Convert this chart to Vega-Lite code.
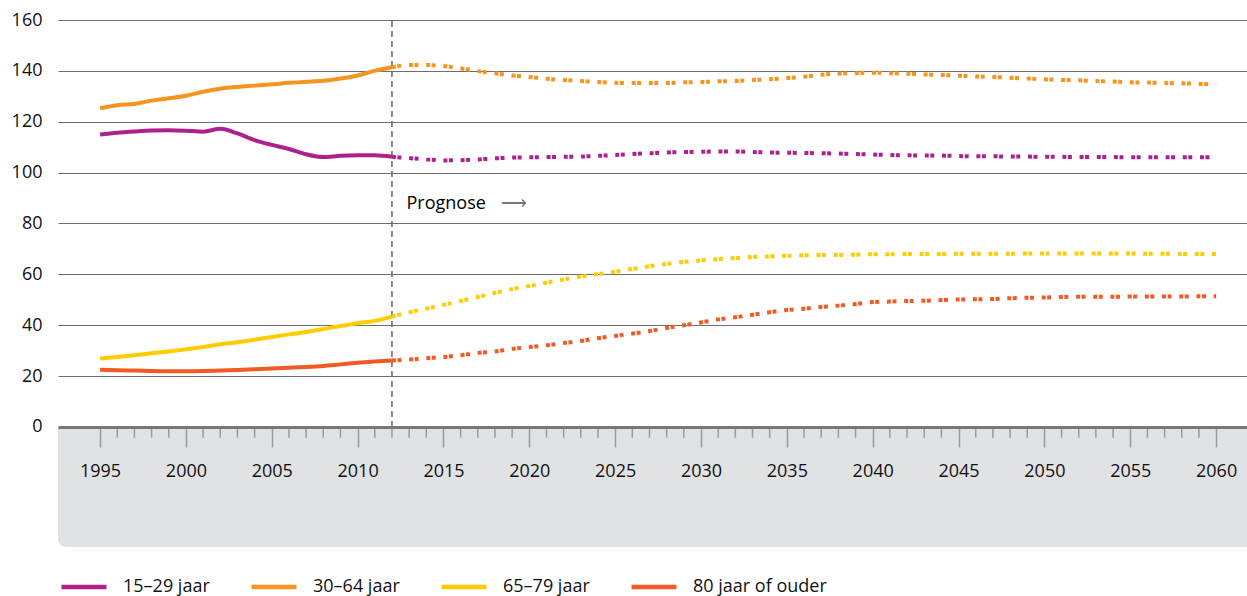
{
  "$schema": "https://vega.github.io/schema/vega-lite/v6.json",
  "width": 1189,
  "height": 527,
  "autosize": {"type": "none"},
  "padding": {"left": 58, "top": 20, "right": 0, "bottom": 49},
  "background": "white",
  "config": {
    "font": "Open Sans",
    "view": {"stroke": null},
    "axis": {"labelFont": "Open Sans", "labelColor": "#111", "labelFontSize": 18}
  },
  "datasets": {
    "series": [
      {"year":1995,"g":"15–29 jaar","v":115.0},{"year":1996,"g":"15–29 jaar","v":115.7},{"year":1997,"g":"15–29 jaar","v":116.2},{"year":1998,"g":"15–29 jaar","v":116.6},{"year":1999,"g":"15–29 jaar","v":116.7},{"year":2000,"g":"15–29 jaar","v":116.5},{"year":2001,"g":"15–29 jaar","v":116.1},{"year":2002,"g":"15–29 jaar","v":117.2},{"year":2003,"g":"15–29 jaar","v":115.4},{"year":2004,"g":"15–29 jaar","v":112.8},{"year":2005,"g":"15–29 jaar","v":110.9},{"year":2006,"g":"15–29 jaar","v":109.3},{"year":2007,"g":"15–29 jaar","v":107.2},{"year":2008,"g":"15–29 jaar","v":106.1},{"year":2009,"g":"15–29 jaar","v":106.6},{"year":2010,"g":"15–29 jaar","v":106.8},{"year":2011,"g":"15–29 jaar","v":106.8},{"year":2012,"g":"15–29 jaar","v":106.2},{"year":2013,"g":"15–29 jaar","v":105.7},{"year":2014,"g":"15–29 jaar","v":105.2},{"year":2015,"g":"15–29 jaar","v":104.8},{"year":2016,"g":"15–29 jaar","v":104.9},{"year":2017,"g":"15–29 jaar","v":105.2},{"year":2018,"g":"15–29 jaar","v":105.6},{"year":2019,"g":"15–29 jaar","v":105.9},{"year":2020,"g":"15–29 jaar","v":106.0},{"year":2021,"g":"15–29 jaar","v":106.1},{"year":2022,"g":"15–29 jaar","v":106.2},{"year":2023,"g":"15–29 jaar","v":106.3},{"year":2024,"g":"15–29 jaar","v":106.6},{"year":2025,"g":"15–29 jaar","v":106.9},{"year":2026,"g":"15–29 jaar","v":107.3},{"year":2027,"g":"15–29 jaar","v":107.6},{"year":2028,"g":"15–29 jaar","v":107.9},{"year":2029,"g":"15–29 jaar","v":108.1},{"year":2030,"g":"15–29 jaar","v":108.2},{"year":2031,"g":"15–29 jaar","v":108.3},{"year":2032,"g":"15–29 jaar","v":108.3},{"year":2033,"g":"15–29 jaar","v":108.1},{"year":2034,"g":"15–29 jaar","v":107.9},{"year":2035,"g":"15–29 jaar","v":107.8},{"year":2036,"g":"15–29 jaar","v":107.7},{"year":2037,"g":"15–29 jaar","v":107.6},{"year":2038,"g":"15–29 jaar","v":107.5},{"year":2039,"g":"15–29 jaar","v":107.3},{"year":2040,"g":"15–29 jaar","v":107.1},{"year":2041,"g":"15–29 jaar","v":106.9},{"year":2042,"g":"15–29 jaar","v":106.8},{"year":2043,"g":"15–29 jaar","v":106.7},{"year":2044,"g":"15–29 jaar","v":106.7},{"year":2045,"g":"15–29 jaar","v":106.5},{"year":2046,"g":"15–29 jaar","v":106.4},{"year":2047,"g":"15–29 jaar","v":106.4},{"year":2048,"g":"15–29 jaar","v":106.3},{"year":2049,"g":"15–29 jaar","v":106.3},{"year":2050,"g":"15–29 jaar","v":106.2},{"year":2051,"g":"15–29 jaar","v":106.2},{"year":2052,"g":"15–29 jaar","v":106.1},{"year":2053,"g":"15–29 jaar","v":106.1},{"year":2054,"g":"15–29 jaar","v":106.1},{"year":2055,"g":"15–29 jaar","v":106.0},{"year":2056,"g":"15–29 jaar","v":106.0},{"year":2057,"g":"15–29 jaar","v":106.0},{"year":2058,"g":"15–29 jaar","v":106.0},{"year":2059,"g":"15–29 jaar","v":106.0},{"year":2060,"g":"15–29 jaar","v":106.0},
      {"year":1995,"g":"30–64 jaar","v":125.3},{"year":1996,"g":"30–64 jaar","v":126.5},{"year":1997,"g":"30–64 jaar","v":127.0},{"year":1998,"g":"30–64 jaar","v":128.3},{"year":1999,"g":"30–64 jaar","v":129.2},{"year":2000,"g":"30–64 jaar","v":130.2},{"year":2001,"g":"30–64 jaar","v":131.8},{"year":2002,"g":"30–64 jaar","v":133.0},{"year":2003,"g":"30–64 jaar","v":133.7},{"year":2004,"g":"30–64 jaar","v":134.2},{"year":2005,"g":"30–64 jaar","v":134.7},{"year":2006,"g":"30–64 jaar","v":135.3},{"year":2007,"g":"30–64 jaar","v":135.7},{"year":2008,"g":"30–64 jaar","v":136.1},{"year":2009,"g":"30–64 jaar","v":137.0},{"year":2010,"g":"30–64 jaar","v":138.2},{"year":2011,"g":"30–64 jaar","v":140.0},{"year":2012,"g":"30–64 jaar","v":141.4},{"year":2013,"g":"30–64 jaar","v":142.3},{"year":2014,"g":"30–64 jaar","v":142.3},{"year":2015,"g":"30–64 jaar","v":141.9},{"year":2016,"g":"30–64 jaar","v":141.0},{"year":2017,"g":"30–64 jaar","v":139.9},{"year":2018,"g":"30–64 jaar","v":139.0},{"year":2019,"g":"30–64 jaar","v":138.2},{"year":2020,"g":"30–64 jaar","v":137.6},{"year":2021,"g":"30–64 jaar","v":136.9},{"year":2022,"g":"30–64 jaar","v":136.4},{"year":2023,"g":"30–64 jaar","v":136.0},{"year":2024,"g":"30–64 jaar","v":135.6},{"year":2025,"g":"30–64 jaar","v":135.3},{"year":2026,"g":"30–64 jaar","v":135.2},{"year":2027,"g":"30–64 jaar","v":135.2},{"year":2028,"g":"30–64 jaar","v":135.2},{"year":2029,"g":"30–64 jaar","v":135.5},{"year":2030,"g":"30–64 jaar","v":135.6},{"year":2031,"g":"30–64 jaar","v":135.9},{"year":2032,"g":"30–64 jaar","v":136.0},{"year":2033,"g":"30–64 jaar","v":136.4},{"year":2034,"g":"30–64 jaar","v":136.7},{"year":2035,"g":"30–64 jaar","v":137.2},{"year":2036,"g":"30–64 jaar","v":137.7},{"year":2037,"g":"30–64 jaar","v":138.5},{"year":2038,"g":"30–64 jaar","v":138.9},{"year":2039,"g":"30–64 jaar","v":139.1},{"year":2040,"g":"30–64 jaar","v":139.3},{"year":2041,"g":"30–64 jaar","v":139.1},{"year":2042,"g":"30–64 jaar","v":138.9},{"year":2043,"g":"30–64 jaar","v":138.6},{"year":2044,"g":"30–64 jaar","v":138.4},{"year":2045,"g":"30–64 jaar","v":138.1},{"year":2046,"g":"30–64 jaar","v":137.8},{"year":2047,"g":"30–64 jaar","v":137.6},{"year":2048,"g":"30–64 jaar","v":137.3},{"year":2049,"g":"30–64 jaar","v":137.0},{"year":2050,"g":"30–64 jaar","v":136.7},{"year":2051,"g":"30–64 jaar","v":136.4},{"year":2052,"g":"30–64 jaar","v":136.3},{"year":2053,"g":"30–64 jaar","v":136.0},{"year":2054,"g":"30–64 jaar","v":135.8},{"year":2055,"g":"30–64 jaar","v":135.5},{"year":2056,"g":"30–64 jaar","v":135.4},{"year":2057,"g":"30–64 jaar","v":135.2},{"year":2058,"g":"30–64 jaar","v":135.1},{"year":2059,"g":"30–64 jaar","v":134.9},{"year":2060,"g":"30–64 jaar","v":134.8},
      {"year":1995,"g":"65–79 jaar","v":26.9},{"year":1996,"g":"65–79 jaar","v":27.5},{"year":1997,"g":"65–79 jaar","v":28.2},{"year":1998,"g":"65–79 jaar","v":29.0},{"year":1999,"g":"65–79 jaar","v":29.7},{"year":2000,"g":"65–79 jaar","v":30.5},{"year":2001,"g":"65–79 jaar","v":31.4},{"year":2002,"g":"65–79 jaar","v":32.5},{"year":2003,"g":"65–79 jaar","v":33.3},{"year":2004,"g":"65–79 jaar","v":34.3},{"year":2005,"g":"65–79 jaar","v":35.4},{"year":2006,"g":"65–79 jaar","v":36.4},{"year":2007,"g":"65–79 jaar","v":37.3},{"year":2008,"g":"65–79 jaar","v":38.5},{"year":2009,"g":"65–79 jaar","v":39.7},{"year":2010,"g":"65–79 jaar","v":40.8},{"year":2011,"g":"65–79 jaar","v":41.7},{"year":2012,"g":"65–79 jaar","v":43.4},{"year":2013,"g":"65–79 jaar","v":45.1},{"year":2014,"g":"65–79 jaar","v":46.5},{"year":2015,"g":"65–79 jaar","v":48.0},{"year":2016,"g":"65–79 jaar","v":49.5},{"year":2017,"g":"65–79 jaar","v":51.1},{"year":2018,"g":"65–79 jaar","v":52.7},{"year":2019,"g":"65–79 jaar","v":54.2},{"year":2020,"g":"65–79 jaar","v":55.4},{"year":2021,"g":"65–79 jaar","v":56.7},{"year":2022,"g":"65–79 jaar","v":58.0},{"year":2023,"g":"65–79 jaar","v":59.1},{"year":2024,"g":"65–79 jaar","v":60.1},{"year":2025,"g":"65–79 jaar","v":61.0},{"year":2026,"g":"65–79 jaar","v":62.1},{"year":2027,"g":"65–79 jaar","v":63.2},{"year":2028,"g":"65–79 jaar","v":64.1},{"year":2029,"g":"65–79 jaar","v":64.9},{"year":2030,"g":"65–79 jaar","v":65.5},{"year":2031,"g":"65–79 jaar","v":66.0},{"year":2032,"g":"65–79 jaar","v":66.4},{"year":2033,"g":"65–79 jaar","v":66.8},{"year":2034,"g":"65–79 jaar","v":67.1},{"year":2035,"g":"65–79 jaar","v":67.3},{"year":2036,"g":"65–79 jaar","v":67.5},{"year":2037,"g":"65–79 jaar","v":67.6},{"year":2038,"g":"65–79 jaar","v":67.6},{"year":2039,"g":"65–79 jaar","v":67.7},{"year":2040,"g":"65–79 jaar","v":67.9},{"year":2041,"g":"65–79 jaar","v":67.9},{"year":2042,"g":"65–79 jaar","v":68.0},{"year":2043,"g":"65–79 jaar","v":68.0},{"year":2044,"g":"65–79 jaar","v":68.0},{"year":2045,"g":"65–79 jaar","v":68.1},{"year":2046,"g":"65–79 jaar","v":68.1},{"year":2047,"g":"65–79 jaar","v":68.1},{"year":2048,"g":"65–79 jaar","v":68.1},{"year":2049,"g":"65–79 jaar","v":68.2},{"year":2050,"g":"65–79 jaar","v":68.2},{"year":2051,"g":"65–79 jaar","v":68.2},{"year":2052,"g":"65–79 jaar","v":68.2},{"year":2053,"g":"65–79 jaar","v":68.2},{"year":2054,"g":"65–79 jaar","v":68.2},{"year":2055,"g":"65–79 jaar","v":68.2},{"year":2056,"g":"65–79 jaar","v":68.1},{"year":2057,"g":"65–79 jaar","v":68.1},{"year":2058,"g":"65–79 jaar","v":68.0},{"year":2059,"g":"65–79 jaar","v":68.0},{"year":2060,"g":"65–79 jaar","v":68.0},
      {"year":1995,"g":"80 jaar of ouder","v":22.5},{"year":1996,"g":"80 jaar of ouder","v":22.3},{"year":1997,"g":"80 jaar of ouder","v":22.2},{"year":1998,"g":"80 jaar of ouder","v":22.0},{"year":1999,"g":"80 jaar of ouder","v":21.9},{"year":2000,"g":"80 jaar of ouder","v":21.9},{"year":2001,"g":"80 jaar of ouder","v":22.0},{"year":2002,"g":"80 jaar of ouder","v":22.2},{"year":2003,"g":"80 jaar of ouder","v":22.4},{"year":2004,"g":"80 jaar of ouder","v":22.7},{"year":2005,"g":"80 jaar of ouder","v":23.0},{"year":2006,"g":"80 jaar of ouder","v":23.3},{"year":2007,"g":"80 jaar of ouder","v":23.6},{"year":2008,"g":"80 jaar of ouder","v":24.0},{"year":2009,"g":"80 jaar of ouder","v":24.6},{"year":2010,"g":"80 jaar of ouder","v":25.2},{"year":2011,"g":"80 jaar of ouder","v":25.7},{"year":2012,"g":"80 jaar of ouder","v":26.1},{"year":2013,"g":"80 jaar of ouder","v":26.5},{"year":2014,"g":"80 jaar of ouder","v":27.0},{"year":2015,"g":"80 jaar of ouder","v":27.5},{"year":2016,"g":"80 jaar of ouder","v":28.2},{"year":2017,"g":"80 jaar of ouder","v":29.1},{"year":2018,"g":"80 jaar of ouder","v":29.7},{"year":2019,"g":"80 jaar of ouder","v":30.7},{"year":2020,"g":"80 jaar of ouder","v":31.4},{"year":2021,"g":"80 jaar of ouder","v":32.1},{"year":2022,"g":"80 jaar of ouder","v":33.0},{"year":2023,"g":"80 jaar of ouder","v":33.8},{"year":2024,"g":"80 jaar of ouder","v":34.9},{"year":2025,"g":"80 jaar of ouder","v":35.8},{"year":2026,"g":"80 jaar of ouder","v":36.7},{"year":2027,"g":"80 jaar of ouder","v":37.7},{"year":2028,"g":"80 jaar of ouder","v":38.9},{"year":2029,"g":"80 jaar of ouder","v":40.0},{"year":2030,"g":"80 jaar of ouder","v":41.1},{"year":2031,"g":"80 jaar of ouder","v":42.3},{"year":2032,"g":"80 jaar of ouder","v":43.1},{"year":2033,"g":"80 jaar of ouder","v":44.1},{"year":2034,"g":"80 jaar of ouder","v":45.1},{"year":2035,"g":"80 jaar of ouder","v":46.0},{"year":2036,"g":"80 jaar of ouder","v":46.5},{"year":2037,"g":"80 jaar of ouder","v":47.2},{"year":2038,"g":"80 jaar of ouder","v":47.7},{"year":2039,"g":"80 jaar of ouder","v":48.3},{"year":2040,"g":"80 jaar of ouder","v":49.1},{"year":2041,"g":"80 jaar of ouder","v":49.3},{"year":2042,"g":"80 jaar of ouder","v":49.5},{"year":2043,"g":"80 jaar of ouder","v":49.6},{"year":2044,"g":"80 jaar of ouder","v":49.9},{"year":2045,"g":"80 jaar of ouder","v":50.1},{"year":2046,"g":"80 jaar of ouder","v":50.2},{"year":2047,"g":"80 jaar of ouder","v":50.3},{"year":2048,"g":"80 jaar of ouder","v":50.6},{"year":2049,"g":"80 jaar of ouder","v":50.8},{"year":2050,"g":"80 jaar of ouder","v":50.9},{"year":2051,"g":"80 jaar of ouder","v":51.1},{"year":2052,"g":"80 jaar of ouder","v":51.2},{"year":2053,"g":"80 jaar of ouder","v":51.2},{"year":2054,"g":"80 jaar of ouder","v":51.2},{"year":2055,"g":"80 jaar of ouder","v":51.3},{"year":2056,"g":"80 jaar of ouder","v":51.3},{"year":2057,"g":"80 jaar of ouder","v":51.3},{"year":2058,"g":"80 jaar of ouder","v":51.3},{"year":2059,"g":"80 jaar of ouder","v":51.4},{"year":2060,"g":"80 jaar of ouder","v":51.4}
    ],
    "band": [{"x1": 1992.55, "x2": 2061.8, "y1": -47.2, "y2": 0}],
    "marker": [{"year": 2012, "y1": 0, "y2": 160}],
    "notes": [{"x": 2012.85, "y": 87.6, "t": "Prognose", "c": "black"}, {"x": 2018.35, "y": 87.6, "t": "⟶", "c": "#777"}]
  },
  "layer": [
    {
      "data": {"name": "band"},
      "mark": {"type": "rect", "color": "#e1e2e4", "cornerRadiusBottomLeft": 8},
      "encoding": {
        "x": {"field": "x1", "type": "quantitative", "scale": {"domain": [1992.55, 2061.8], "nice": false, "zero": false},
              "axis": {"values": [1995,2000,2005,2010,2015,2020,2025,2030,2035,2040,2045,2050,2055,2060], "format": "d", "title": null, "orient": "bottom", "offset": -120, "grid": false, "zindex": 1,
                       "domainColor": "#787878", "domainWidth": 3, "tickColor": "#9a9a9a", "tickWidth": 1.5, "tickSize": 20, "labelPadding": 15, "labelFlush": false, "labelFontSize": 18, "labelColor": "#111"}},
        "x2": {"field": "x2"},
        "y": {"field": "y1", "type": "quantitative", "scale": {"domain": [-47.2, 160], "nice": false, "zero": false},
              "axis": {"values": [0,20,40,60,80,100,120,140,160], "title": null, "grid": true, "gridColor": "#6e6e6e", "gridWidth": 1, "domain": false, "ticks": false, "labelPadding": 16, "labelFontSize": 18, "labelColor": "#111"}},
        "y2": {"field": "y2"}
      }
    },
    {
      "data": {"name": "series"},
      "transform": [{"filter": "datum.g === '15–29 jaar' && datum.year % 5 !== 0"}],
      "mark": {"type": "rule", "color": "#9a9a9a", "strokeWidth": 1.5},
      "encoding": {
        "x": {"field": "year", "type": "quantitative"},
        "y": {"datum": -0.6},
        "y2": {"datum": -4.2}
      }
    },
    {
      "data": {"name": "marker"},
      "mark": {"type": "rule", "color": "#666", "strokeWidth": 1.5, "strokeDash": [6, 4]},
      "encoding": {
        "x": {"field": "year", "type": "quantitative"},
        "y": {"field": "y1", "type": "quantitative"},
        "y2": {"field": "y2"}
      }
    },
    {
      "data": {"name": "series"},
      "transform": [{"filter": "datum.year <= 2012"}],
      "mark": {"type": "line", "strokeWidth": 4, "interpolate": "monotone"},
      "encoding": {
        "x": {"field": "year", "type": "quantitative"},
        "y": {"field": "v", "type": "quantitative"},
        "color": {"field": "g", "type": "nominal",
                  "scale": {"domain": ["15–29 jaar", "30–64 jaar", "65–79 jaar", "80 jaar of ouder"], "range": ["#ac218e", "#f7941d", "#ffcc00", "#f15a24"]},
                  "legend": {"title": null, "orient": "none", "legendX": 1, "legendY": 542, "direction": "horizontal", "columns": 4,
                             "symbolType": "stroke", "symbolSize": 2025, "symbolStrokeWidth": 4.5, "labelFontSize": 18, "labelFont": "Open Sans", "labelColor": "#111", "labelOffset": 14, "columnPadding": 32}}
      }
    },
    {
      "data": {"name": "series"},
      "transform": [{"filter": "datum.year >= 2012"}],
      "mark": {"type": "line", "strokeWidth": 4, "strokeDash": [4, 1.5, 4, 7.7], "interpolate": "monotone"},
      "encoding": {
        "x": {"field": "year", "type": "quantitative"},
        "y": {"field": "v", "type": "quantitative"},
        "color": {"field": "g", "type": "nominal"}
      }
    },
    {
      "data": {"name": "notes"},
      "mark": {"type": "text", "align": "left", "baseline": "middle", "fontSize": 18, "font": "Open Sans"},
      "encoding": {
        "x": {"field": "x", "type": "quantitative"},
        "y": {"field": "y", "type": "quantitative"},
        "text": {"field": "t"},
        "color": {"field": "c", "type": "nominal", "scale": null}
      }
    }
  ]
}
